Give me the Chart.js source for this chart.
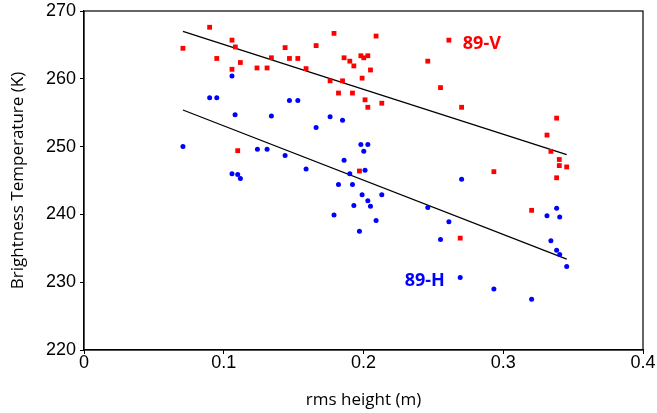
<!DOCTYPE html>
<html>
<head>
<meta charset="utf-8">
<script src="https://cdn.jsdelivr.net/npm/chart.js@4/dist/chart.umd.min.js"></script>
<style>
  html, body { margin: 0; padding: 0; background: #fff; }
  #wrap { position: relative; width: 657px; height: 413px; }
</style>
</head>
<body>
<div id="wrap"><canvas id="chart"></canvas></div>
<script>
// 89 GHz vertical polarisation: rms height (m) vs brightness temperature (K)
const vRms = [0.0899, 0.0708, 0.1059, 0.1083, 0.0950, 0.1119, 0.1059, 0.1238, 0.1310, 0.1341,
              0.1439, 0.1470, 0.1530, 0.1589, 0.1661, 0.1789, 0.2090, 0.1861, 0.1902, 0.1931,
              0.1981, 0.2002, 0.2031, 0.2050, 0.1761, 0.1850, 0.1990, 0.1821, 0.1921, 0.2011,
              0.2031, 0.2131, 0.1100, 0.1971, 0.2611, 0.2460, 0.2551, 0.2702, 0.3382, 0.3313,
              0.3341, 0.3401, 0.3401, 0.3454, 0.2933, 0.3382, 0.3203, 0.2692];
const vTb  = [267.6, 264.5, 265.7, 264.7, 263.0, 262.4, 261.4, 261.6, 261.6, 263.1,
              264.6, 263.0, 263.0, 261.5, 264.9, 266.7, 266.3, 263.1, 262.6, 261.9,
              263.4, 263.1, 263.4, 261.3, 259.7, 259.7, 260.1, 257.9, 257.9, 256.9,
              255.8, 256.4, 249.4, 246.4, 265.7, 262.6, 258.7, 255.8, 254.2, 251.7,
              249.3, 248.1, 247.2, 247.0, 246.3, 245.4, 240.6, 236.5];

// 89 GHz horizontal polarisation
const hRms = [0.1059, 0.0899, 0.0950, 0.1081, 0.1341, 0.1470, 0.1530, 0.1761, 0.1850, 0.1661,
              0.0708, 0.1241, 0.1310, 0.1439, 0.1861, 0.1981, 0.2031, 0.2002, 0.1589, 0.1902,
              0.2011, 0.1059, 0.1100, 0.1119, 0.1821, 0.1921, 0.1990, 0.2131, 0.2031, 0.1931,
              0.2050, 0.1789, 0.2090, 0.1971, 0.2702, 0.2460, 0.2611, 0.2551, 0.3382, 0.3313,
              0.3404, 0.3341, 0.3382, 0.3404, 0.3454, 0.2692, 0.2933, 0.3203];
const hTb  = [260.4, 257.2, 257.2, 254.7, 254.5, 256.8, 256.8, 254.4, 253.9, 252.8,
              250.0, 249.6, 249.6, 248.7, 248.0, 250.3, 250.3, 249.3, 246.7, 246.0,
              246.5, 246.0, 245.9, 245.3, 244.4, 244.4, 242.9, 242.9, 242.0, 241.3,
              241.2, 239.9, 239.1, 237.5, 245.2, 241.0, 238.9, 236.3, 240.9, 239.8,
              239.6, 236.1, 234.7, 234.1, 232.3, 230.7, 229.0, 227.5];

// Linear trend lines (end points)
const vFitRms = [0.0708, 0.3454];
const vFitTb  = [267.0, 248.8];
const hFitRms = [0.0708, 0.3454];
const hFitTb  = [255.4, 233.4];

// Axis ticks
const xTicks = [0, 0.1, 0.2, 0.3, 0.4];
const yTicks = [220, 230, 240, 250, 260, 270];

// Series labels placed inside the plot (data coordinates)
const seriesLabels = [
  { text: '89-V', x: 0.2847, y: 265.2, color: '#ff0000' },
  { text: '89-H', x: 0.2438, y: 230.2, color: '#0000ff' }
];

const toPoints = (xs, ys) => xs.map((x, i) => ({ x: x, y: ys[i] }));

const frameAndLabels = {
  id: 'frameAndLabels',
  afterDatasetsDraw(chart) {
    const { ctx, chartArea: a, scales } = chart;
    ctx.save();
    ctx.strokeStyle = '#000';
    ctx.lineWidth = 1.2;
    ctx.strokeRect(a.left, a.top, a.right - a.left, a.bottom - a.top);
    ctx.font = 'bold 18px "Open Sans", "DejaVu Sans", sans-serif';
    ctx.textAlign = 'center';
    ctx.textBaseline = 'middle';
    seriesLabels.forEach(l => {
      ctx.fillStyle = l.color;
      ctx.fillText(l.text, scales.x.getPixelForValue(l.x), scales.y.getPixelForValue(l.y));
    });
    ctx.restore();
  }
};

new Chart(document.getElementById('chart'), {
  type: 'scatter',
  data: {
    datasets: [
      {
        label: '89-V',
        data: toPoints(vRms, vTb),
        pointStyle: 'rect',
        pointRadius: 3.4,
        backgroundColor: '#ff0000',
        borderColor: '#ff0000',
        borderWidth: 0
      },
      {
        label: '89-H',
        data: toPoints(hRms, hTb),
        pointStyle: 'circle',
        pointRadius: 2.5,
        backgroundColor: '#0000ff',
        borderColor: '#0000ff',
        borderWidth: 0
      },
      {
        label: '89-V fit',
        type: 'line',
        data: toPoints(vFitRms, vFitTb),
        showLine: true,
        pointRadius: 0,
        borderColor: '#000',
        borderWidth: 1.3,
        fill: false
      },
      {
        label: '89-H fit',
        type: 'line',
        data: toPoints(hFitRms, hFitTb),
        showLine: true,
        pointRadius: 0,
        borderColor: '#000',
        borderWidth: 1.3,
        fill: false
      }
    ]
  },
  options: {
    responsive: true,
    maintainAspectRatio: false,
    animation: false,
    events: [],
    layout: { padding: { top: 11, right: 14, left: 0, bottom: 0 } },
    plugins: {
      legend: { display: false },
      tooltip: { enabled: false }
    },
    scales: {
      x: {
        type: 'linear',
        min: 0,
        max: 0.4,
        afterBuildTicks: s => { s.ticks = xTicks.map(v => ({ value: v })); },
        afterFit: s => { s.height = 63; s.paddingLeft = 0; s.paddingRight = 0; },
        grid: { display: true, drawOnChartArea: false, drawTicks: true, tickLength: 4, color: '#000' },
        border: { display: true, color: '#000', width: 1.2 },
        ticks: {
          color: '#000',
          padding: -2,
          font: { family: '"Liberation Sans", Arial, sans-serif', size: 18 },
          callback: v => String(v)
        },
        title: {
          display: true,
          text: 'rms height (m)',
          color: '#000',
          font: { family: '"Open Sans", sans-serif', size: 17 },
          padding: { top: 0, bottom: 3 }
        }
      },
      y: {
        type: 'linear',
        min: 220,
        max: 270,
        afterBuildTicks: s => { s.ticks = yTicks.map(v => ({ value: v })); },
        afterFit: s => { s.width = 84; s.paddingTop = 0; s.paddingBottom = 0; },
        grid: { display: true, drawOnChartArea: false, drawTicks: true, tickLength: 4, color: '#000' },
        border: { display: true, color: '#000', width: 1.2 },
        ticks: {
          color: '#000',
          padding: 4,
          font: { family: '"Liberation Sans", Arial, sans-serif', size: 18 },
          callback: v => String(v)
        },
        title: {
          display: true,
          text: 'Brightness Temperature (K)',
          color: '#000',
          font: { family: '"Open Sans", sans-serif', size: 17 },
          padding: { top: 8, bottom: 0 }
        }
      }
    }
  },
  plugins: [frameAndLabels]
});
</script>
</body>
</html>
